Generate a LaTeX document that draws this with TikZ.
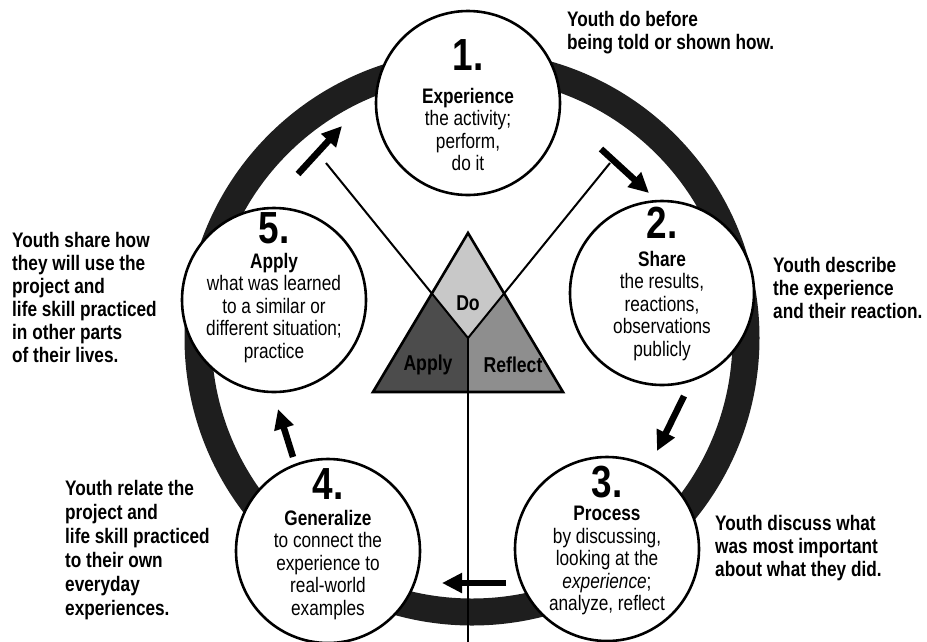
\documentclass[tikz,border=0pt]{standalone}
\usepackage{fontspec}
\setmainfont{Liberation Sans}[FakeStretch=0.82]
\usetikzlibrary{arrows.meta}
\definecolor{ringc}{HTML}{1E1E1E}
\definecolor{dofill}{HTML}{C8C8C8}
\definecolor{applyfill}{HTML}{4C4C4C}
\definecolor{reflfill}{HTML}{8E8E8E}
\tikzset{
  circ/.style={circle, draw=black, line width=2.6pt, fill=white, minimum size=184pt, inner sep=0pt},
  num/.style={font=\fontsize{45}{45}\selectfont\bfseries, inner sep=0pt},
  body/.style={align=center, anchor=north, inner sep=0pt, font=\fontsize{21}{22.5}\selectfont},
  side/.style={align=left, anchor=north west, inner sep=0pt, font=\fontsize{21}{23}\selectfont\bfseries},
  tri/.style={font=\fontsize{21.5}{22}\selectfont\bfseries, inner sep=0pt},
  arr/.style={line width=6.5pt, -{Triangle[length=20pt,width=19pt]}},
  thin/.style={line width=2pt, black},
}
\begin{document}
\begin{tikzpicture}[x=1pt,y=-1pt]
\useasboundingbox (0,0) rectangle (927,641);
\fill[white] (0,0) rectangle (927,641);
% ring
\draw[ringc, line width=27pt] (472,338) circle[radius=274];
% triangle geometry
\coordinate (apex) at (468,233);
\coordinate (bl) at (373,392);
\coordinate (br) at (563,392);
\coordinate (ctr) at (468,338);
\coordinate (bc) at (468,392);
\coordinate (lstart) at (326,163);
\coordinate (rstart) at (610,163);
\coordinate (vend) at (468,645);
\coordinate (ml) at (intersection of lstart--ctr and apex--bl);
\coordinate (mr) at (intersection of rstart--ctr and apex--br);
\fill[dofill] (apex) -- (mr) -- (ctr) -- (ml) -- cycle;
\fill[applyfill] (ml) -- (ctr) -- (bc) -- (bl) -- cycle;
\fill[reflfill] (mr) -- (ctr) -- (bc) -- (br) -- cycle;
\draw[line width=2.6pt, line join=miter] (apex) -- (br) -- (bl) -- cycle;
\draw[thin] (lstart) -- (ctr);
\draw[thin] (rstart) -- (ctr);
\draw[thin] (ctr) -- (vend);
\node[tri] (tdo) at (468,303) {Do};
\node[tri] (tapply) at (428,365) {Apply};
\node[tri] (trefl) at (513,365) {Reflect};
% circles
\node[circ] (c1) at (468,103) {};
\node[circ] (c2) at (662,293) {};
\node[circ] (c3) at (607,549) {};
\node[circ] (c4) at (328,551) {};
\node[circ] (c5) at (274,300) {};
% numbers
\node[num] (n1) at (468,55) {1.};
\node[num] (n2) at (662,223) {2.};
\node[num] (n3) at (607,482) {3.};
\node[num] (n4) at (328,484) {4.};
\node[num] (n5) at (274,228) {5.};
% circle texts
\node[body] (b1) at (468,88) {\textbf{Experience}\\the activity;\\perform,\\do it};
\node[body] (b2) at (662,251) {\textbf{Share}\\the results,\\reactions,\\observations\\publicly};
\node[body] (b3) at (607,506) {\textbf{Process}\\by discussing,\\looking at the\\\textit{experience};\\analyze, reflect};
\node[body] (b4) at (328,510) {\textbf{Generalize}\\to connect the\\experience to\\real-world\\examples};
\node[body] (b5) at (274,253) {\textbf{Apply}\\what was learned\\to a similar or\\different situation;\\practice};
% arrows
\coordinate (a1s) at (298,174); \coordinate (a1e) at (342,126);
\coordinate (a2s) at (601,149); \coordinate (a2e) at (649,193);
\coordinate (a3s) at (684,396); \coordinate (a3e) at (657,451);
\coordinate (a4s) at (506,583); \coordinate (a4e) at (442,583);
\coordinate (a5s) at (293,457); \coordinate (a5e) at (278,409);
\draw[arr] (a1s) -- (a1e);
\draw[arr] (a2s) -- (a2e);
\draw[arr] (a3s) -- (a3e);
\draw[arr] (a4s) -- (a4e);
\draw[arr] (a5s) -- (a5e);
% side texts
\node[side] (s1) at (567,11) {Youth do before\\being told or shown how.};
\node[side] (s2) at (773,257) {Youth describe\\the experience\\and their reaction.};
\node[side] (s3) at (715,515) {Youth discuss what\\was most important\\about what they did.};
\node[side] (s4) at (12,232) {Youth share how\\they will use the\\project and\\life skill practiced\\in other parts\\of their lives.};
\node[side, font=\fontsize{21}{24}\selectfont\bfseries] (s5) at (65,480) {Youth relate the\\project and\\life skill practiced\\to their own\\everyday\\experiences.};
\end{tikzpicture}
\end{document}
